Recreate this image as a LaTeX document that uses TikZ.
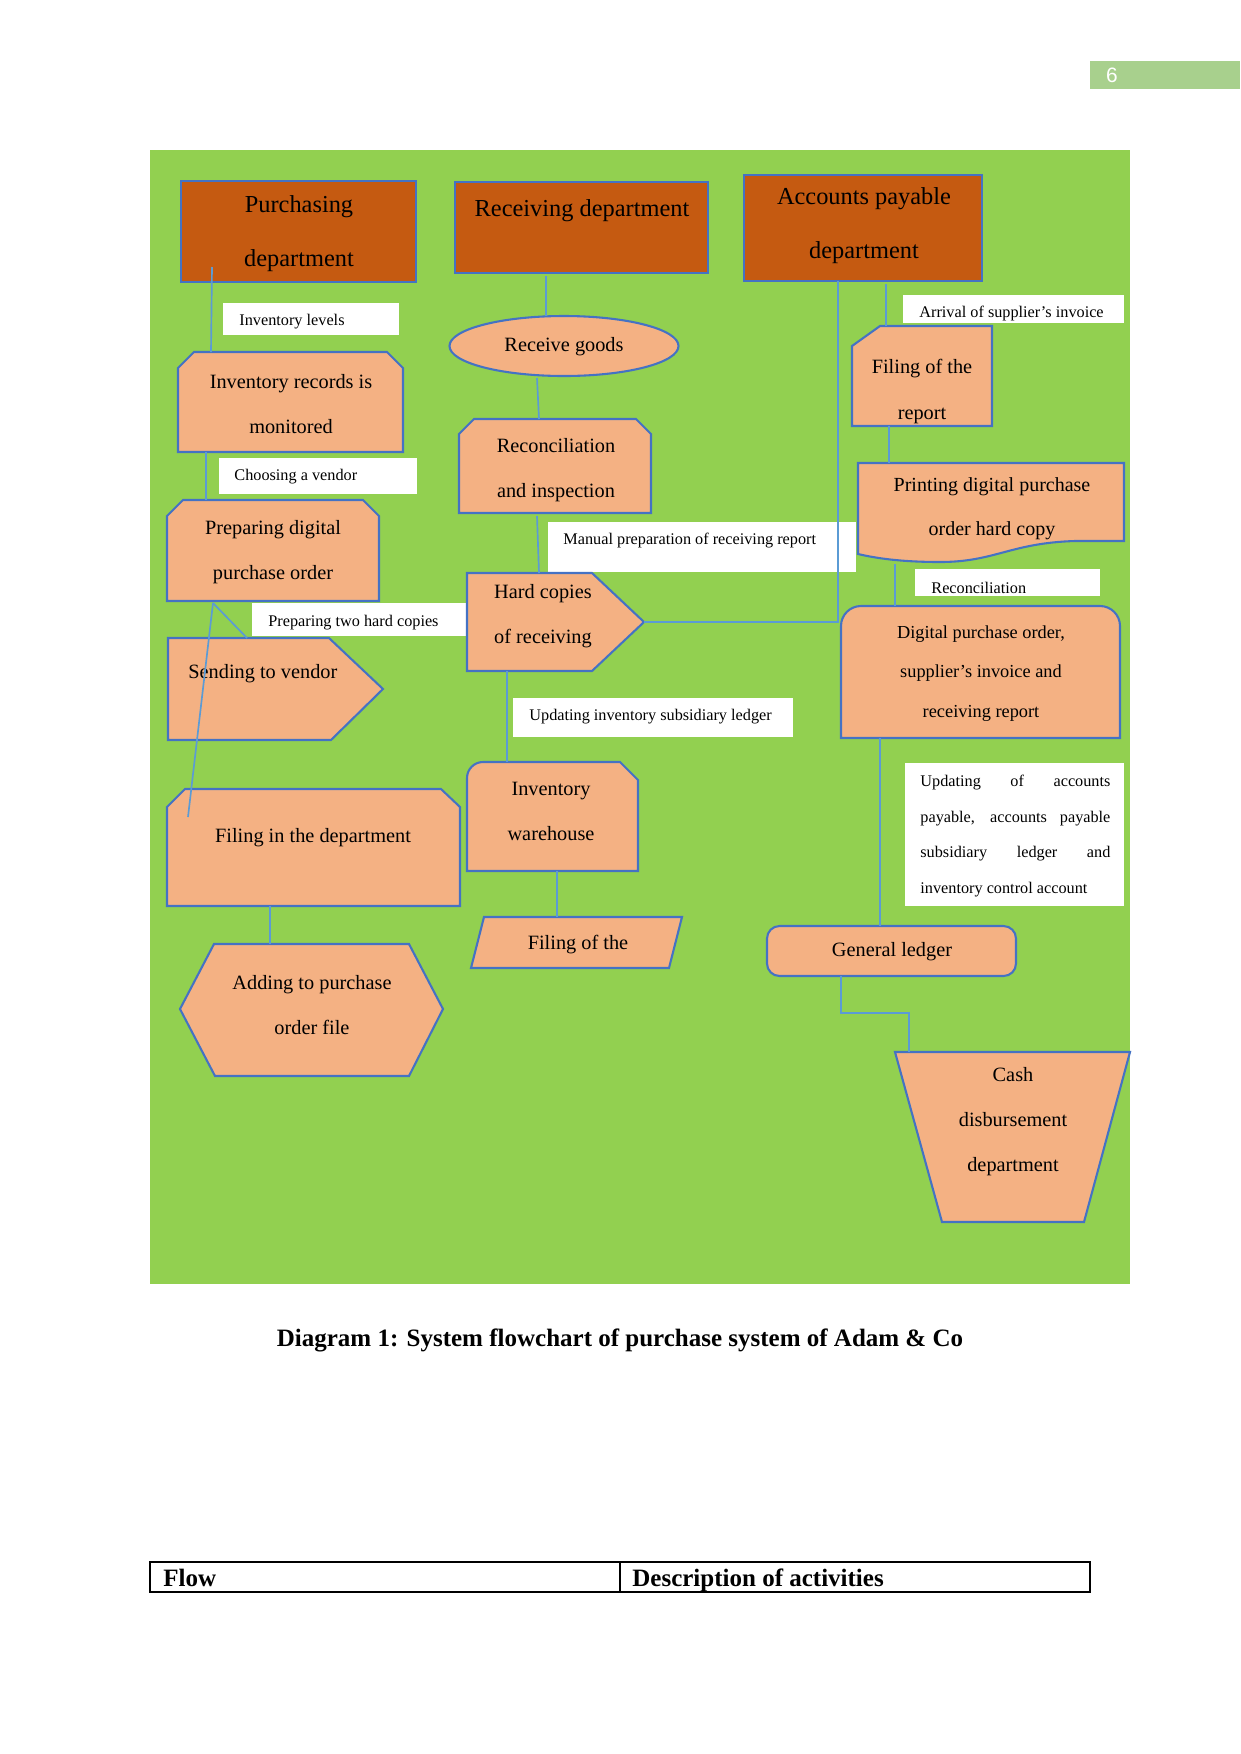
\documentclass[tikz,border=0pt]{standalone}
\usepackage{fontspec}
\setmainfont{Liberation Serif}
\newfontfamily\arialfont{Liberation Sans}
\definecolor{bggreen}{HTML}{92D050}
\definecolor{darkor}{HTML}{C55A11}
\definecolor{lightor}{HTML}{F4B183}
\definecolor{bordercol}{HTML}{4472C4}
\definecolor{conncol}{HTML}{5B9BD5}
\definecolor{pagegreen}{HTML}{A8D08D}
\begin{document}
\begin{tikzpicture}[x=0.48pt,y=-0.48pt,
  deptbox/.style={draw=bordercol,line width=1pt,fill=darkor},
  shapebox/.style={draw=bordercol,line width=1pt,fill=lightor},
  conn/.style={draw=conncol,line width=0.8pt},
  txt/.style={inner sep=0pt,align=center,text=black,yshift=-1.2pt},
  titlefont/.style={font=\fontsize{11.7pt}{25.9pt}\selectfont},
  bodyfont/.style={font=\fontsize{9.75pt}{21.6pt}\selectfont},
  smallfont/.style={font=\fontsize{7.8pt}{9pt}\selectfont},
  wbox/.style={fill=white}]
\fill[white] (0,0) rectangle (1241,1754);
\useasboundingbox (0,0) rectangle (1241,1754);
% page number
\fill[pagegreen] (1090,61) rectangle (1240,89);
\node[inner sep=0pt,text=white,font=\arialfont\fontsize{10pt}{12pt}\selectfont] (pnum) at (1112,75.5) {6};
% background
\fill[bggreen] (150,150) rectangle (1130,1284);
% department boxes
\draw[deptbox] (181,181) rectangle (416,282);
\node[txt,titlefont] (tPurch) at (299,231) {Purchasing\\department};
\draw[deptbox] (455,182) rectangle (708,273);
\node[txt,titlefont] (tRecv) at (582,208) {Receiving department};
\draw[deptbox] (744,175) rectangle (982,281);
\node[txt,titlefont] (tAP) at (864,223) {Accounts payable\\department};
% left column
\fill[wbox] (223,303) rectangle (399,335);
\node[txt,smallfont,anchor=west] (lInvLev) at (239,319) {Inventory levels};
\draw[shapebox] (178,452) -- (178,368) -- (194,352) -- (387,352) -- (403,368) -- (403,452) -- cycle;
\node[txt,bodyfont] (tInvRec) at (291,402) {Inventory records is\\monitored};
\fill[wbox] (219,458) rectangle (417,494);
\node[txt,smallfont,anchor=west] (lChoose) at (234,474) {Choosing a vendor};
\draw[shapebox] (167,601) -- (167,516) -- (183,500) -- (363,500) -- (379,516) -- (379,601) -- cycle;
\node[txt,bodyfont] (tPrep) at (273,550) {Preparing digital\\purchase order};
\fill[wbox] (252,603) rectangle (467,636);
\node[txt,smallfont,anchor=west] (lTwo) at (268,620) {Preparing two hard copies};
\draw[shapebox] (168,638) -- (329,638) -- (383,689) -- (331,740) -- (168,740) -- cycle;
\node[txt,bodyfont,anchor=west] (tSend) at (188,671) {Sending to vendor};
\draw[shapebox] (167,906) -- (167,807) -- (185,789) -- (441,789) -- (460,807) -- (460,906) -- cycle;
\node[txt,bodyfont] (tFileDept) at (313,835) {Filing in the department};
\draw[shapebox] (214,944) -- (409,944) -- (443,1009) -- (409,1076) -- (215,1076) -- (180,1009) -- cycle;
\node[txt,bodyfont] (tAdd) at (312,1003) {Adding to purchase\\order file};
% middle column
\draw[shapebox] (564,346) ellipse [x radius=54.96pt,y radius=14.4pt];
\node[txt,bodyfont] (tRecvGoods) at (564,344) {Receive goods};
\draw[shapebox] (459,513) -- (459,434) -- (474,419) -- (636,419) -- (651,434) -- (651,513) -- cycle;
\node[txt,bodyfont] (tRecon) at (556,468) {Reconciliation\\and inspection};
\fill[wbox] (548,522) rectangle (856,572);
\node[txt,smallfont,anchor=west] (lManual) at (563,538) {Manual preparation of receiving report};
\draw[shapebox] (467,573) -- (592,573) -- (644,622) -- (592,671) -- (467,671) -- cycle;
\node[txt,bodyfont] (tHard) at (543,614) {Hard copies\\of receiving};
\fill[wbox] (513,698) rectangle (793,737);
\node[txt,smallfont,anchor=west] (lUpdInv) at (529,714) {Updating inventory subsidiary ledger};
\draw[shapebox] (467,871) -- (467,778) arc[start angle=180,end angle=90,radius=7.68pt] -- (620,762) -- (638,780) -- (638,871) -- cycle;
\node[txt,bodyfont] (tWare) at (551,809) {Inventory\\warehouse};
\draw[shapebox] (484,917) -- (682,917) -- (669,968) -- (471,968) -- cycle;
\node[txt,bodyfont] (tFileThe) at (578,942) {Filing of the};
% right column
\fill[wbox] (903,295) rectangle (1124,323);
\node[txt,smallfont,anchor=west] (lArrival) at (919,311) {Arrival of supplier’s invoice};
\draw[shapebox] (852,426) -- (852,346) -- (880,326) -- (992,326) -- (992,426) -- cycle;
\node[txt,font=\fontsize{9.75pt}{22pt}\selectfont] (tFileRep) at (922,389) {Filing of the\\report};
\draw[shapebox] (858,554) -- (858,463) -- (1124,463) -- (1124,541) -- (1075,541) .. controls (1010,543) and (995,562) .. (940,562) .. controls (900,562) and (875,558) .. (858,554) -- cycle;
\node[txt,font=\fontsize{9.6pt}{21.1pt}\selectfont] (tPrint) at (992,506) {Printing digital purchase\\order hard copy};
\fill[wbox] (915,569) rectangle (1100,596);
\node[txt,smallfont,anchor=west] (lRecon) at (931,585) {Reconciliation};
\draw[shapebox] (841,738) -- (841,626) arc[start angle=180,end angle=90,radius=9.6pt] -- (1100,606) arc[start angle=90,end angle=0,radius=9.6pt] -- (1120,738) -- cycle;
\node[txt,font=\fontsize{8.8pt}{19pt}\selectfont] (tDigital) at (981,671) {Digital purchase order,\\supplier’s invoice and\\receiving report};
\fill[wbox] (905,763) rectangle (1124,906);
\node[txt,yshift=0pt,align=left,anchor=west,font=\fontsize{7.8pt}{17.1pt}\selectfont] (lUpdAP) at (920,833.5) {\makebox[91.2pt][s]{Updating of accounts}\\\makebox[91.2pt][s]{payable, accounts payable}\\\makebox[91.2pt][s]{subsidiary ledger and}\\inventory control account};
\draw[shapebox,rounded corners=6pt] (767,926) rectangle (1016,976);
\node[txt,bodyfont] (tGL) at (892,949) {General ledger};
\draw[shapebox] (895,1052) -- (1130,1052) -- (1084,1222) -- (942,1222) -- cycle;
\node[txt,bodyfont] (tCash) at (1013,1119) {Cash\\disbursement\\department};
% connector end points
\coordinate (pPurchB) at (212,267);
\coordinate (pInvRecT) at (211,352);
\coordinate (pInvRecB) at (206,452);
\coordinate (pPrepT) at (206,500);
\coordinate (pPrepB) at (213,603);
\coordinate (pSendT) at (247,638);
\coordinate (pFileDeptIn) at (188,817);
\coordinate (pFileDeptB) at (270,906);
\coordinate (pAddT) at (270,944);
\coordinate (pRecvB) at (546,276);
\coordinate (pGoodsT) at (546,316);
\coordinate (pGoodsB) at (537,378);
\coordinate (pReconT) at (539,419);
\coordinate (pReconB) at (537,516);
\coordinate (pHardT) at (539,573);
\coordinate (pHardB) at (507,671);
\coordinate (pWareT) at (507,762);
\coordinate (pWareB) at (557,871);
\coordinate (pFileTheT) at (557,917);
\coordinate (pHardTip) at (644,622);
\coordinate (pAPB1) at (838,281);
\coordinate (pAPB2) at (886,284);
\coordinate (pFileRepT) at (886,326);
\coordinate (pFileRepB) at (889,426);
\coordinate (pPrintT) at (889,463);
\coordinate (pPrintB) at (895,564);
\coordinate (pDigT) at (895,606);
\coordinate (pDigB) at (880,738);
\coordinate (pGLT) at (880,926);
\coordinate (pGLB) at (841,976);
\coordinate (pCashT) at (909,1052);
% connectors
\draw[conn] (pPurchB) -- (pInvRecT);
\draw[conn] (pInvRecB) -- (pPrepT);
\draw[conn] (pPrepB) -- (pSendT);
\draw[conn] (pPrepB) -- (pFileDeptIn);
\draw[conn] (pFileDeptB) -- (pAddT);
\draw[conn] (pRecvB) -- (pGoodsT);
\draw[conn] (pGoodsB) -- (pReconT);
\draw[conn] (pReconB) -- (pHardT);
\draw[conn] (pHardB) -- (pWareT);
\draw[conn] (pWareB) -- (pFileTheT);
\draw[conn] (pHardTip) -- (pAPB1 |- pHardTip) -- (pAPB1);
\draw[conn] (pAPB2) -- (pFileRepT);
\draw[conn] (pFileRepB) -- (pPrintT);
\draw[conn] (pPrintB) -- (pDigT);
\draw[conn] (pDigB) -- (pGLT);
\draw[conn] (pGLB) -- ++(0,37) -| (pCashT);
% caption
\node[inner sep=0pt,anchor=base,font=\fontsize{12pt}{14pt}\selectfont\bfseries] (caption) at (620,1346) {Diagram 1: System flowchart of purchase system of Adam \& Co};
% table
\draw[line width=0.6pt] (150,1562) rectangle (1090,1592);
\draw[line width=0.6pt] (620,1562) -- (620,1592);
\node[inner sep=0pt,anchor=base west,font=\fontsize{12pt}{14pt}\selectfont\bfseries] (hFlow) at (163,1586) {Flow};
\node[inner sep=0pt,anchor=base west,font=\fontsize{12pt}{14pt}\selectfont\bfseries] (hDesc) at (632,1586) {Description of activities};
\end{tikzpicture}
\end{document}
